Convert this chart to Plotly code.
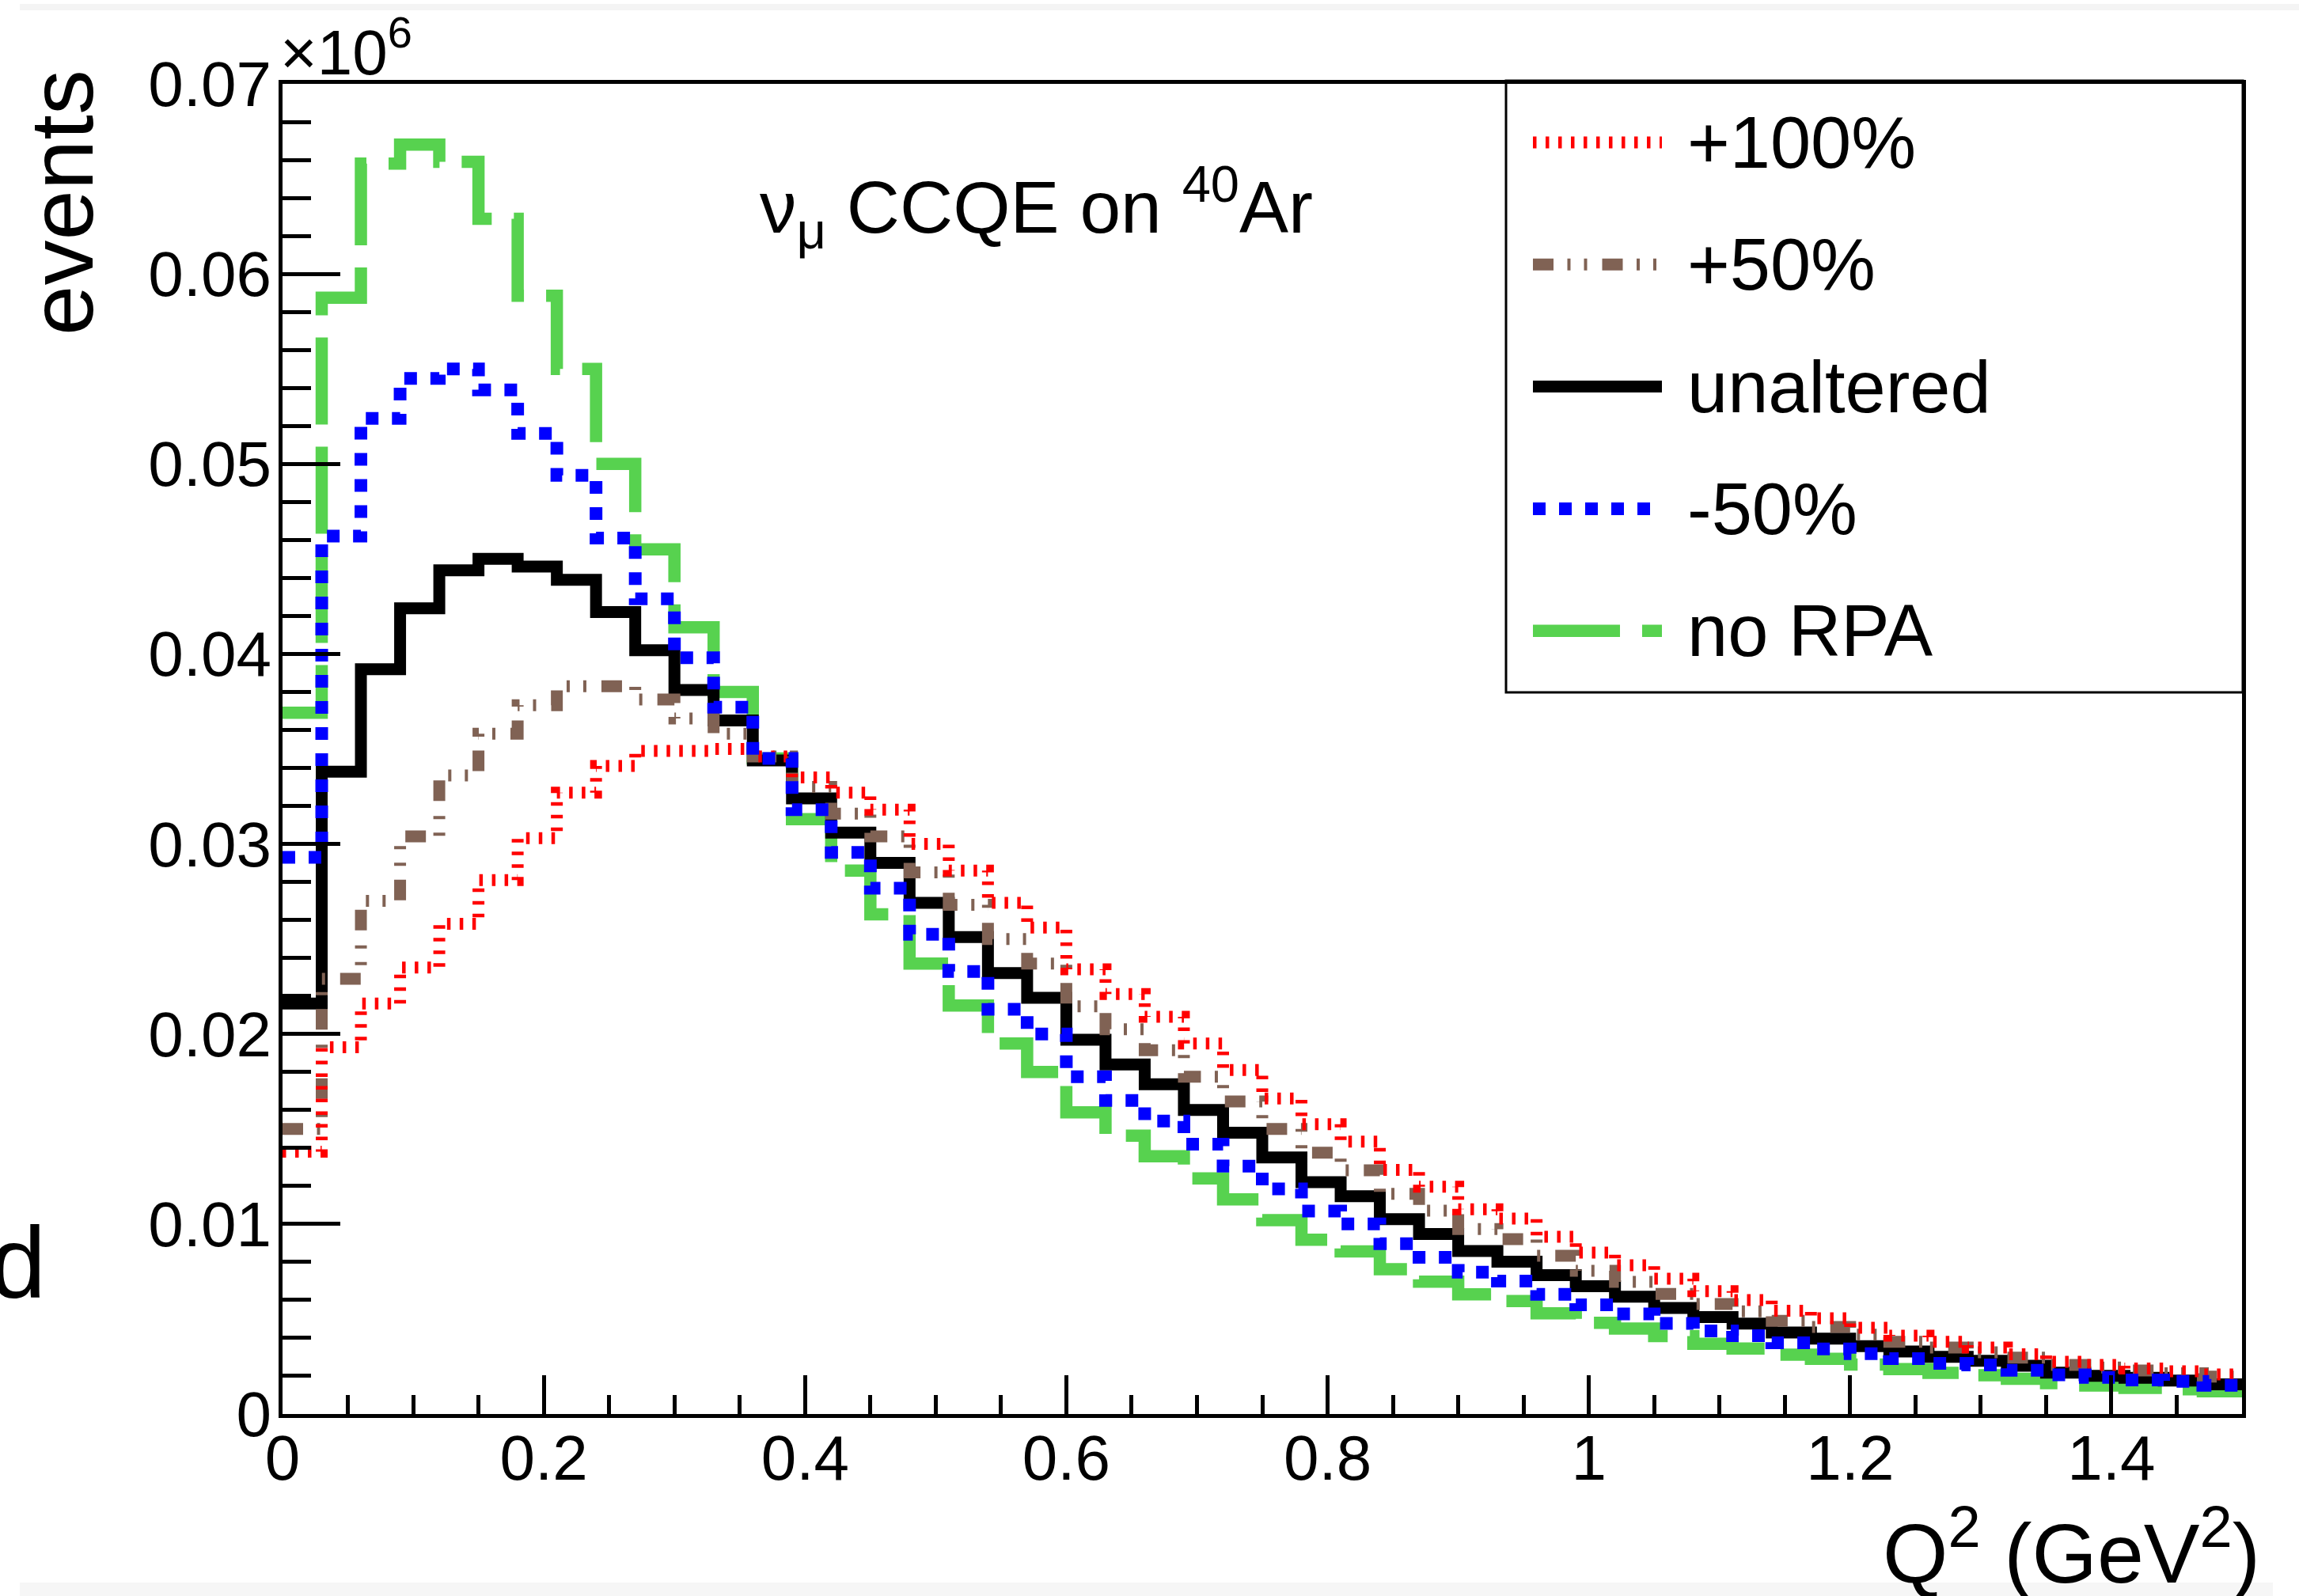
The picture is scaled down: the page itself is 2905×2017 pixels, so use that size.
import numpy as np
import plotly.graph_objects as go

# Q^2 histogram binning (GeV^2)
q2_min, q2_max, n_bins = 0.0, 1.5, 50

# events per bin, in the axis units (x10^6)
plus100 = [0.0138, 0.0193, 0.0216, 0.0235, 0.0258, 0.0281, 0.0303, 0.0327, 0.0341, 0.0349,
           0.0349, 0.0350, 0.0346, 0.0335, 0.0327, 0.0318, 0.0300, 0.0286, 0.0269, 0.0256,
           0.0234, 0.0221, 0.0209, 0.0195, 0.0181, 0.0166, 0.01525, 0.01434, 0.01285, 0.01196,
           0.01077, 0.01029, 0.00933, 0.0085, 0.00783, 0.00712, 0.00647, 0.0060, 0.00543, 0.00504,
           0.00454, 0.00412, 0.0038, 0.0035, 0.00314, 0.00275, 0.00258, 0.00239, 0.00225, 0.00208]

plus50 = [0.0150, 0.0229, 0.0270, 0.0304, 0.0336, 0.0358, 0.0373, 0.0383, 0.0383, 0.0376,
          0.0366, 0.0358, 0.0346, 0.0330, 0.0316, 0.0304, 0.0285, 0.0268, 0.0250, 0.0237,
          0.02146, 0.02025, 0.01914, 0.01775, 0.01645, 0.0150, 0.01375, 0.01283, 0.01159, 0.0107,
          0.00973, 0.0092, 0.00833, 0.00754, 0.00695, 0.00632, 0.00579, 0.0054, 0.0049, 0.00458,
          0.00417, 0.0038, 0.0035, 0.00325, 0.00297, 0.00258, 0.00245, 0.00229, 0.00214, 0.00197]

unaltered = [0.0216, 0.0338, 0.0392, 0.0424, 0.0444, 0.0450, 0.0446, 0.0439, 0.0422, 0.0402,
             0.0381, 0.0365, 0.0344, 0.0324, 0.0306, 0.0290, 0.0269, 0.0251, 0.0232, 0.0219,
             0.0197, 0.0184, 0.01735, 0.0160, 0.0148, 0.0135, 0.0122, 0.01146, 0.01025, 0.00947,
             0.00858, 0.00802, 0.00731, 0.00672, 0.00617, 0.00558, 0.0051, 0.00476, 0.00429, 0.00397,
             0.00357, 0.00329, 0.00301, 0.0028, 0.00254, 0.00218, 0.00201, 0.0019, 0.00176, 0.00156]

minus50 = [0.0293, 0.0462, 0.0524, 0.0545, 0.0550, 0.0539, 0.0516, 0.0494, 0.0461, 0.0429,
           0.0398, 0.0372, 0.0345, 0.0318, 0.02956, 0.02767, 0.02525, 0.02329, 0.0213, 0.0200,
           0.01775, 0.0165, 0.01542, 0.0142, 0.01304, 0.01185, 0.01068, 0.0100, 0.00896, 0.00825,
           0.00746, 0.0070, 0.0063, 0.00575, 0.00527, 0.00477, 0.00437, 0.00412, 0.00375, 0.00342,
           0.00318, 0.00292, 0.00267, 0.00258, 0.0023, 0.00206, 0.00193, 0.00179, 0.00172, 0.00151]

no_rpa = [0.0369, 0.05875, 0.0658, 0.0668, 0.0659, 0.0629, 0.05885, 0.0550, 0.0500, 0.0455,
          0.0414, 0.0380, 0.0345, 0.0313, 0.0286, 0.0263, 0.0237, 0.0215, 0.0195, 0.0180,
          0.01588, 0.01465, 0.01357, 0.0124, 0.0113, 0.0102, 0.00917, 0.00856, 0.00762, 0.00696,
          0.0063, 0.00594, 0.0053, 0.0048, 0.0045, 0.0041, 0.0037, 0.00345, 0.00312, 0.0029,
          0.0026, 0.00236, 0.00217, 0.00204, 0.00185, 0.00162, 0.0015, 0.00137, 0.0013, 0.0012]

legend_labels = ['+100%', '+50%', 'unaltered', '-50%', 'no RPA']

FONT = 'Liberation Sans, Arial, Helvetica, sans-serif'

# line styles (ROOT-like dotted / dash-dot / dashed patterns)
styles = {
    '+100%': dict(color='#ff0000', width=15, dash='4.5px,11.5px'),
    '+50%': dict(color='#806254', width=15, dash='26px,17.5px,4px,17px,4px,19px'),
    'unaltered': dict(color='black', width=15, dash='solid'),
    '-50%': dict(color='#0000ff', width=16, dash='16px,17px'),
    'no RPA': dict(color='#57d24f', width=15.5, dash='110px,28px'),
}
series = {'+100%': plus100, '+50%': plus50, 'unaltered': unaltered,
          '-50%': minus50, 'no RPA': no_rpa}

# figure geometry (pixels)
W_FIG, H_FIG = 2905, 2017
L, R, T, B = 357, 2833, 106, 1787


def xp(p):
    return (p - L) / (R - L)


def yp(p):
    return (B - p) / (B - T)


edges = np.linspace(q2_min, q2_max, n_bins + 1)

fig = go.Figure()

# drawing order: green first, blue last
for name in ['no RPA', 'unaltered', '+50%', '+100%', '-50%']:
    vals = series[name]
    st = styles[name]
    fig.add_trace(go.Scatter(
        x=edges,
        y=list(vals) + [vals[-1]],
        mode='lines',
        name=name,
        line=dict(shape='hv', color=st['color'], width=st['width'], dash=st['dash']),
        showlegend=False,
        hoverinfo='skip',
    ))

shapes = []
annotations = []

# screenshot edge strips
shapes.append(dict(type='rect', xref='paper', yref='paper', x0=xp(25), x1=xp(2905),
                   y0=yp(13), y1=yp(5), line=dict(width=0), fillcolor='#f4f4f4', layer='below'))
shapes.append(dict(type='rect', xref='paper', yref='paper', x0=xp(25), x1=xp(2872),
                   y0=yp(2017), y1=yp(2000), line=dict(width=0), fillcolor='#f6f6f6', layer='below'))

# legend box, drawn by hand to get ROOT-sized samples
shapes.append(dict(type='rect', xref='paper', yref='paper', x0=xp(1903), x1=xp(2834),
                   y0=yp(875), y1=yp(102), line=dict(color='black', width=3),
                   fillcolor='rgba(0,0,0,0)'))
for i, name in enumerate(legend_labels):
    row_y = 180 + 154.3 * i
    st = styles[name]
    shapes.append(dict(type='line', xref='paper', yref='paper', x0=xp(1937), x1=xp(2100),
                       y0=yp(row_y), y1=yp(row_y),
                       line=dict(color=st['color'], width=st['width'], dash=st['dash'])))
    annotations.append(dict(text=name, xref='paper', yref='paper', x=xp(2130), y=yp(row_y),
                            xanchor='left', yanchor='middle', showarrow=False,
                            font=dict(family=FONT, size=92, color='black')))

# plot label
annotations.append(dict(text='ν<sub>μ</sub> CCQE on <sup>40</sup>Ar', xref='paper', yref='paper',
                        x=xp(958), y=yp(262), xanchor='left', yanchor='middle', showarrow=False,
                        font=dict(family=FONT, size=93, color='black')))

# axis titles
annotations.append(dict(text='Q<sup>2</sup> (GeV<sup>2</sup>)', xref='paper', yref='paper',
                        x=xp(2858), y=yp(1955), xanchor='right', yanchor='middle', showarrow=False,
                        font=dict(family=FONT, size=106, color='black')))
annotations.append(dict(text='events', xref='paper', yref='paper', textangle=-90,
                        x=xp(77), y=yp(256), xanchor='center', yanchor='middle', showarrow=False,
                        font=dict(family=FONT, size=114, color='black')))
annotations.append(dict(text='×10<sup>6</sup>', xref='paper', yref='paper',
                        x=xp(352), y=yp(60), xanchor='left', yanchor='middle', showarrow=False,
                        font=dict(family=FONT, size=80, color='black')))
# clipped letter at the left border of the original
annotations.append(dict(text='d', xref='paper', yref='paper',
                        x=xp(60), y=yp(1595), xanchor='right', yanchor='middle', showarrow=False,
                        font=dict(family=FONT, size=128, color='black')))

fig.update_layout(
    width=W_FIG, height=H_FIG,
    margin=dict(l=L, r=W_FIG - R, t=T, b=H_FIG - B, pad=0),
    plot_bgcolor='white', paper_bgcolor='white',
    showlegend=False,
    xaxis=dict(
        range=[q2_min, q2_max], tick0=0, dtick=0.2,
        ticks='inside', ticklen=49, tickwidth=4.5, tickcolor='black',
        showline=True, linecolor='black', linewidth=5, mirror=True,
        showgrid=False, zeroline=False,
        tickfont=dict(family=FONT, size=80, color='black'),
        ticklabelstandoff=-18,
        minor=dict(dtick=0.05, tick0=0, ticks='inside', ticklen=24, tickwidth=4.5,
                   tickcolor='black', showgrid=False),
    ),
    yaxis=dict(
        range=[0, 0.07], tick0=0, dtick=0.01,
        ticks='inside', ticklen=73, tickwidth=4.5, tickcolor='black',
        showline=True, linecolor='black', linewidth=5, mirror=True,
        showgrid=False, zeroline=False,
        tickfont=dict(family=FONT, size=80, color='black'),
        ticklabelstandoff=-7,
        minor=dict(dtick=0.002, tick0=0, ticks='inside', ticklen=36, tickwidth=4.5,
                   tickcolor='black', showgrid=False),
    ),
    shapes=shapes,
    annotations=annotations,
)

fig.write_html("out.html", config={'displayModeBar': False},
               post_script="document.body.style.margin='0';document.body.style.overflow='hidden';")
